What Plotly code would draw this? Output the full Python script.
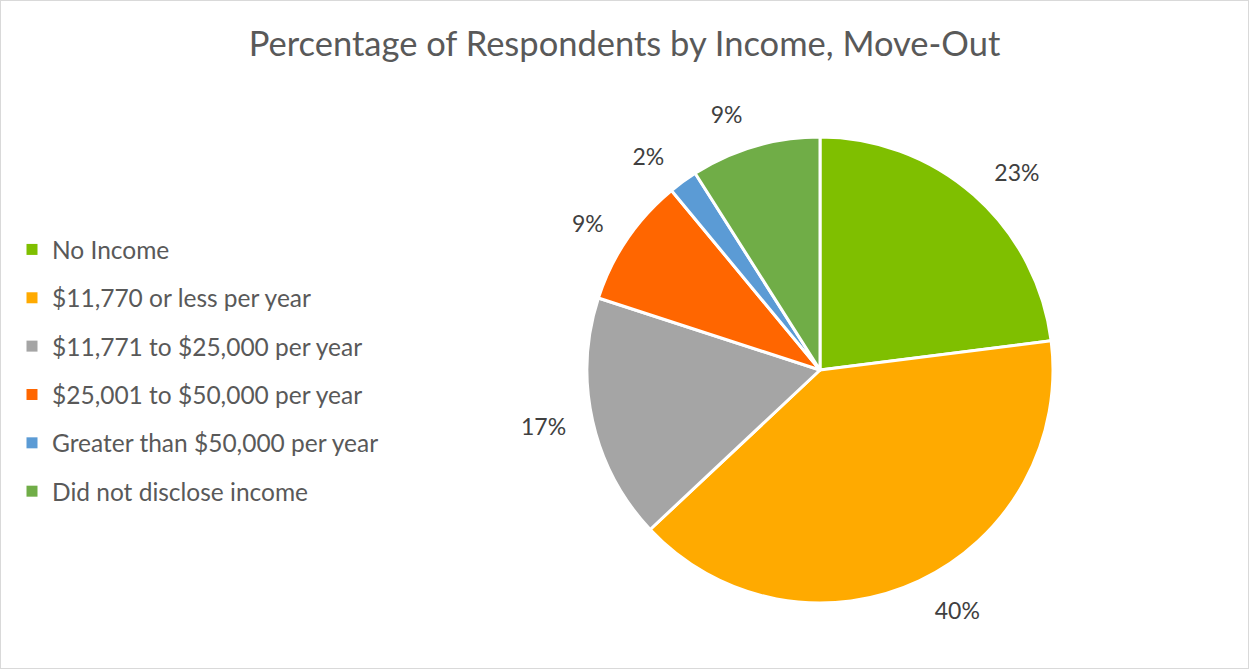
import plotly.graph_objects as go

categories = ["No Income", "$11,770 or less per year", "$11,771 to $25,000 per year",
              "$25,001 to $50,000 per year", "Greater than $50,000 per year", "Did not disclose income"]
values = [23, 40, 17, 9, 2, 9]
colors = ["#7FBF00", "#FFAA00", "#A5A5A5", "#FF6600", "#5B9BD5", "#70AD47"]

W, H = 1249, 669
FONT = "Lato"
CX, CY, R = 820, 299, 233
RL = 253
fig = go.Figure()

fig.add_trace(go.Pie(
    labels=categories, values=values, sort=False, direction="clockwise", rotation=0,
    marker=dict(colors=colors, line=dict(color="white", width=3)),
    textinfo="none", showlegend=False, hoverinfo="label+percent",
    domain=dict(x=[(CX - R) / W, (CX + R) / W], y=[(CY - R) / H, (CY + R) / H]),
))

# transparent, slightly larger pie used only to position the outside percentage labels
fig.add_trace(go.Pie(
    labels=categories, values=values, sort=False, direction="clockwise", rotation=0,
    marker=dict(colors=["rgba(0,0,0,0)"] * len(values), line=dict(width=0)),
    textinfo="percent", texttemplate="%{percent:.0%}", textposition="outside",
    outsidetextfont=dict(family=FONT, size=23, color="#404040"),
    showlegend=False, hoverinfo="skip",
    domain=dict(x=[(CX - RL) / W, (CX + RL) / W], y=[(CY - RL) / H, (CY + RL) / H]),
))

for i, (c, col) in enumerate(zip(categories, colors)):
    fig.add_trace(go.Scatter(
        x=[None], y=[None], mode="markers", name=c, legendgroup=f"g{i}",
        marker=dict(symbol="square", size=11, color=col), showlegend=True,
    ))

fig.update_layout(
    width=W, height=H, margin=dict(l=0, r=0, t=0, b=0),
    paper_bgcolor="white", plot_bgcolor="white",
    title=dict(text="Percentage of Respondents by Income, Move-Out", x=0.5, xanchor="center",
               y=1 - 44 / H, yanchor="middle", font=dict(family=FONT, size=34.5, color="#595959")),
    xaxis=dict(visible=False), yaxis=dict(visible=False),
    legend=dict(x=12 / W, xanchor="left", y=1 - 227 / H, yanchor="top",
                font=dict(family=FONT, size=24.5, color="#595959"),
                tracegroupgap=13.5, itemwidth=30, bgcolor="rgba(0,0,0,0)"),
    shapes=[dict(type="rect", xref="paper", yref="paper", x0=0, x1=1, y0=0, y1=1,
                 line=dict(color="#D9D9D9", width=2), fillcolor="rgba(0,0,0,0)")],
)

fig.write_html("out.html", config={"displayModeBar": False},
               post_script="document.body.style.margin='0';")
